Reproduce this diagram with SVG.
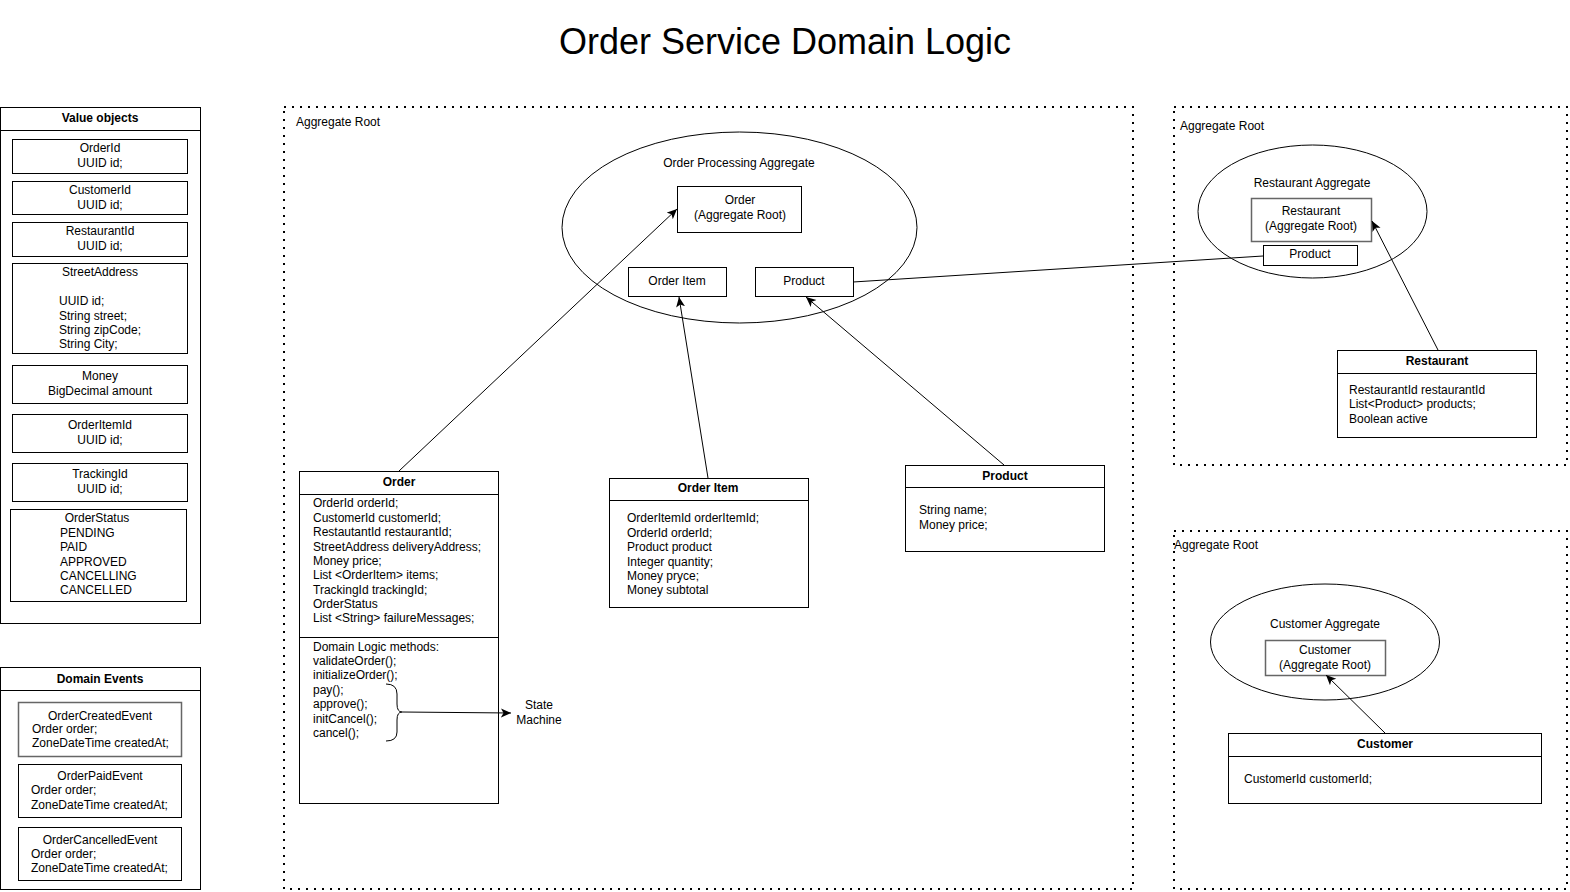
<svg xmlns="http://www.w3.org/2000/svg" width="1570" height="892" viewBox="0 0 1570 892">
<defs>
<style>
text{font-family:"Liberation Sans",Arial,sans-serif;font-size:12px;fill:#000;dominant-baseline:central}
.c{text-anchor:middle}
.b{font-weight:bold}
.box{fill:#fff;stroke:#000;stroke-width:1}
.gbox{fill:#fff;stroke:#666;stroke-width:1.5}
.dot{fill:none;stroke:#000;stroke-width:2;stroke-dasharray:2 6}
.ln{fill:none;stroke:#000;stroke-width:1}
.ell{fill:#fff;stroke:#000;stroke-width:1}
</style>
<marker id="arr" markerUnits="userSpaceOnUse" markerWidth="12" markerHeight="10" refX="10" refY="4.5" orient="auto">
<path d="M0,0 L10,4.5 L0,9 L2.5,4.5 Z" fill="#000"/>
</marker>
</defs>
<rect width="1570" height="892" fill="#fff"/>
<text x="785" y="41" class="c" style="font-size:36px">Order Service Domain Logic</text>

<g id="aggregate-order">
<rect x="284" y="107" width="849" height="782" class="dot"/>
<text x="296" y="122">Aggregate Root</text>
</g>
<g id="aggregate-restaurant">
<rect x="1174" y="107" width="393" height="358" class="dot"/>
<text x="1180" y="126">Aggregate Root</text>
</g>
<g id="aggregate-customer">
<rect x="1174" y="531" width="393" height="358" class="dot"/>
<text x="1174" y="545">Aggregate Root</text>
</g>

<g id="value-objects">
<rect x="0.5" y="107.5" width="200" height="516" class="box"/>
<line x1="0.5" y1="130.5" x2="200.5" y2="130.5" class="ln"/>
<text x="100" y="118" class="c b">Value objects</text>
<rect x="12.5" y="139.5" width="175" height="34" class="box"/>
<text x="100" y="148" class="c">OrderId</text><text x="100" y="163" class="c">UUID id;</text>
<rect x="12.5" y="181.5" width="175" height="33" class="box"/>
<text x="100" y="190" class="c">CustomerId</text><text x="100" y="205" class="c">UUID id;</text>
<rect x="12.5" y="222.5" width="175" height="34" class="box"/>
<text x="100" y="231" class="c">RestaurantId</text><text x="100" y="246" class="c">UUID id;</text>
<rect x="12.5" y="263.5" width="175" height="90" class="box"/>
<text x="100" y="272" class="c">StreetAddress</text>
<text x="59" y="301">UUID id;</text><text x="59" y="316">String street;</text><text x="59" y="330">String zipCode;</text><text x="59" y="344">String City;</text>
<rect x="12.5" y="365.5" width="175" height="38" class="box"/>
<text x="100" y="376" class="c">Money</text><text x="100" y="391" class="c">BigDecimal amount</text>
<rect x="12.5" y="414.5" width="175" height="38" class="box"/>
<text x="100" y="425" class="c">OrderItemId</text><text x="100" y="440" class="c">UUID id;</text>
<rect x="12.5" y="463.5" width="175" height="38" class="box"/>
<text x="100" y="474" class="c">TrackingId</text><text x="100" y="489" class="c">UUID id;</text>
<rect x="10.5" y="509.5" width="176" height="92" class="box"/>
<text x="97" y="518" class="c">OrderStatus</text>
<text x="60" y="533">PENDING</text><text x="60" y="547">PAID</text><text x="60" y="562">APPROVED</text><text x="60" y="576">CANCELLING</text><text x="60" y="590">CANCELLED</text>
</g>

<g id="domain-events">
<rect x="0.5" y="667.5" width="200" height="222" class="box"/>
<line x1="0.5" y1="690.5" x2="200.5" y2="690.5" class="ln"/>
<text x="100" y="679" class="c b">Domain Events</text>
<rect x="18.5" y="702.5" width="163" height="54" class="gbox"/>
<text x="100" y="716" class="c">OrderCreatedEvent</text><text x="32" y="729">Order order;</text><text x="32" y="743">ZoneDateTime createdAt;</text>
<rect x="18.5" y="764.5" width="163" height="53" class="box"/>
<text x="100" y="776" class="c">OrderPaidEvent</text><text x="31" y="790">Order order;</text><text x="31" y="805">ZoneDateTime createdAt;</text>
<rect x="18.5" y="827.5" width="163" height="53" class="box"/>
<text x="100" y="840" class="c">OrderCancelledEvent</text><text x="31" y="854">Order order;</text><text x="31" y="868">ZoneDateTime createdAt;</text>
</g>

<g id="order-processing-aggregate">
<ellipse cx="739.5" cy="227.5" rx="177.5" ry="95.5" class="ell"/>
<text x="739" y="163" class="c">Order Processing Aggregate</text>
</g>
<g id="order-root">
<rect x="677.5" y="186.5" width="124" height="46" class="box"/>
<text x="740" y="200" class="c">Order</text><text x="740" y="215" class="c">(Aggregate Root)</text>
</g>
<g id="order-item-ref">
<rect x="628.5" y="267.5" width="98" height="29" class="box"/>
<text x="677" y="281" class="c">Order Item</text>
</g>
<g id="product-ref">
<rect x="755.5" y="267.5" width="98" height="29" class="box"/>
<text x="804" y="281" class="c">Product</text>
</g>

<g id="order-class">
<rect x="299.5" y="471.5" width="199" height="332" class="box"/>
<line x1="299.5" y1="494.5" x2="498.5" y2="494.5" class="ln"/>
<line x1="299.5" y1="637.5" x2="498.5" y2="637.5" class="ln"/>
<text x="399" y="482" class="c b">Order</text>
<text x="313" y="503">OrderId orderId;</text>
<text x="313" y="518">CustomerId customerId;</text>
<text x="313" y="532">RestautantId restaurantId;</text>
<text x="313" y="547">StreetAddress deliveryAddress;</text>
<text x="313" y="561">Money price;</text>
<text x="313" y="575">List &lt;OrderItem&gt; items;</text>
<text x="313" y="590">TrackingId trackingId;</text>
<text x="313" y="604">OrderStatus</text>
<text x="313" y="618">List &lt;String&gt; failureMessages;</text>
<text x="313" y="647">Domain Logic methods:</text>
<text x="313" y="661">validateOrder();</text>
<text x="313" y="675">initializeOrder();</text>
<text x="313" y="690">pay();</text>
<text x="313" y="704">approve();</text>
<text x="313" y="719">initCancel();</text>
<text x="313" y="733">cancel();</text>
<path d="M386,684 Q397,684 397,694 L397,704 Q397,712 402,712 Q397,712 397,720 L397,732 Q397,741 386,741" class="ln"/>
</g>
<g id="state-machine">
<text x="539" y="705" class="c">State</text>
<text x="539" y="720" class="c">Machine</text>
</g>

<g id="order-item-class">
<rect x="609.5" y="478.5" width="199" height="129" class="box"/>
<line x1="609.5" y1="500.5" x2="808.5" y2="500.5" class="ln"/>
<text x="708" y="488" class="c b">Order Item</text>
<text x="627" y="518">OrderItemId orderItemId;</text>
<text x="627" y="533">OrderId orderId;</text>
<text x="627" y="547">Product product</text>
<text x="627" y="562">Integer quantity;</text>
<text x="627" y="576">Money pryce;</text>
<text x="627" y="590">Money subtotal</text>
</g>

<g id="product-class">
<rect x="905.5" y="465.5" width="199" height="86" class="box"/>
<line x1="905.5" y1="487.5" x2="1104.5" y2="487.5" class="ln"/>
<text x="1005" y="476" class="c b">Product</text>
<text x="919" y="510">String name;</text>
<text x="919" y="525">Money price;</text>
</g>

<g id="restaurant-aggregate">
<ellipse cx="1312.5" cy="211.5" rx="114.5" ry="66.5" class="ell"/>
<text x="1312" y="183" class="c">Restaurant Aggregate</text>
</g>
<g id="restaurant-root">
<rect x="1251.5" y="198.5" width="120" height="43" class="gbox"/>
<text x="1311" y="211" class="c">Restaurant</text><text x="1311" y="226" class="c">(Aggregate Root)</text>
</g>
<g id="restaurant-product">
<rect x="1263.5" y="245.5" width="94" height="20" class="box"/>
<text x="1310" y="254" class="c">Product</text>
</g>
<g id="restaurant-class">
<rect x="1337.5" y="350.5" width="199" height="87" class="box"/>
<line x1="1337.5" y1="373.5" x2="1536.5" y2="373.5" class="ln"/>
<text x="1437" y="361" class="c b">Restaurant</text>
<text x="1349" y="390">RestaurantId restaurantId</text>
<text x="1349" y="404">List&lt;Product&gt; products;</text>
<text x="1349" y="419">Boolean active</text>
</g>

<g id="customer-aggregate">
<ellipse cx="1325" cy="642" rx="114.5" ry="58" class="ell"/>
<text x="1325" y="624" class="c">Customer Aggregate</text>
</g>
<g id="customer-root">
<rect x="1265.5" y="640.5" width="120" height="35" class="gbox"/>
<text x="1325" y="650" class="c">Customer</text><text x="1325" y="665" class="c">(Aggregate Root)</text>
</g>
<g id="customer-class">
<rect x="1228.5" y="733.5" width="313" height="70" class="box"/>
<line x1="1228.5" y1="756.5" x2="1541.5" y2="756.5" class="ln"/>
<text x="1385" y="744" class="c b">Customer</text>
<text x="1244" y="779">CustomerId customerId;</text>
</g>

<g id="connectors">
<line x1="399" y1="471" x2="677" y2="209" class="ln" marker-end="url(#arr)"/>
<line x1="708" y1="478" x2="679" y2="297" class="ln" marker-end="url(#arr)"/>
<line x1="1004" y1="465" x2="806" y2="297" class="ln" marker-end="url(#arr)"/>
<line x1="853" y1="282" x2="1263" y2="256" class="ln"/>
<line x1="1438" y1="350" x2="1372" y2="221" class="ln" marker-end="url(#arr)"/>
<line x1="1385" y1="733" x2="1326" y2="675" class="ln" marker-end="url(#arr)"/>
<line x1="402" y1="712" x2="511" y2="713" class="ln" marker-end="url(#arr)"/>
</g>
</svg>
